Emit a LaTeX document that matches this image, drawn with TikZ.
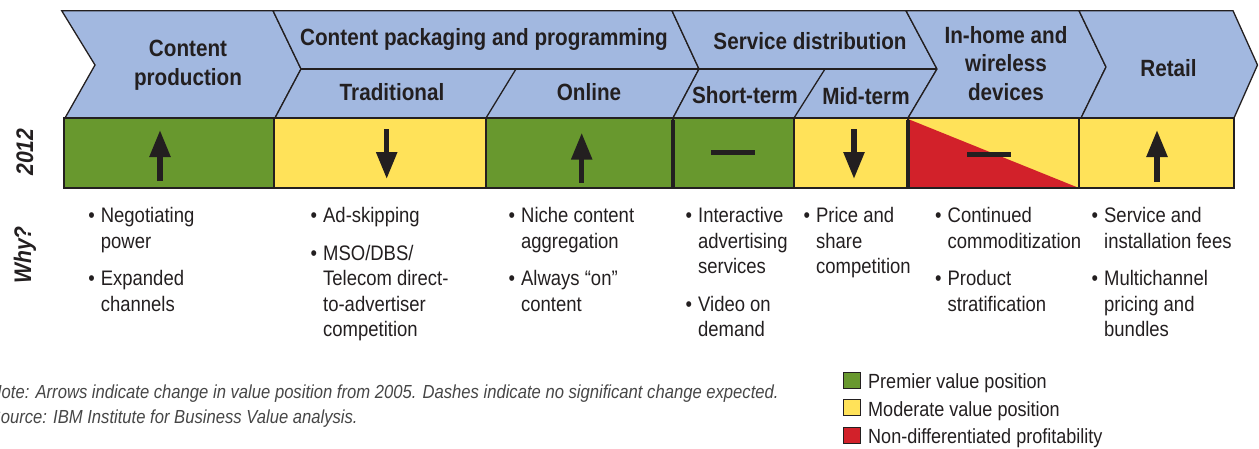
\documentclass[tikz,border=0pt]{standalone}
\usepackage{fontspec}
\setmainfont{Liberation Sans}[FakeStretch=0.88]
\usetikzlibrary{arrows.meta}

\definecolor{hdrblue}{RGB}{162,184,224}
\definecolor{valgreen}{RGB}{104,152,46}
\definecolor{valyellow}{RGB}{255,226,89}
\definecolor{valred}{RGB}{210,33,42}
\definecolor{inkgray}{RGB}{35,31,32}
\definecolor{notegray}{RGB}{70,70,70}

\tikzset{
  chev/.style={fill=hdrblue, draw=inkgray, line width=1.3pt, line join=miter},
  cell/.style={draw=inkgray, line width=1.3pt},
  hdr/.style={font=\fontsize{23.5}{28.5}\selectfont\bfseries, text=inkgray, align=center, inner sep=0pt},
  why/.style={anchor=north west, inner sep=0pt, font=\fontsize{21}{25.5}\selectfont, text=inkgray},
  trend/.style={line width=5.5pt, inkgray, -{Triangle[width=20pt,length=27pt]}},
  flat/.style={line width=5pt, inkgray},
  bar/.style={line width=4pt, inkgray},
  side/.style={rotate=90, anchor=base, inner sep=0pt, font=\fontsize{24}{28}\selectfont\bfseries\itshape, text=inkgray},
  note/.style={anchor=base west, inner sep=0pt, font=\fontsize{18.9}{25}\selectfont\itshape, text=notegray},
  keybox/.style={draw=inkgray, line width=0.8pt, minimum width=17pt, minimum height=16pt, inner sep=0pt},
  keytext/.style={anchor=base west, inner sep=0pt, font=\fontsize{20.5}{25}\selectfont, text=inkgray}
}

\begin{document}
\begin{tikzpicture}[x=1pt, y=-1pt]
    \useasboundingbox (0,0) rectangle (1259,448);

    % Header chevrons
    \draw[chev] (61.7,10.7) -- (273,10.7) -- (301,69) -- (275,118) -- (65,118) -- (95,65) -- cycle;
    \draw[chev] (273,10.7) -- (672,10.7) -- (699,69) -- (673,118) -- (275,118) -- (301,69) -- cycle;
    \draw[chev] (672,10.7) -- (906,10.7) -- (937,69) -- (908,118) -- (673,118) -- (699,69) -- cycle;
    \draw[chev] (906,10.7) -- (1079,10.7) -- (1106,67) -- (1081,118) -- (908,118) -- (937,69) -- cycle;
    \draw[chev] (1079,10.7) -- (1233,10.7) -- (1257.5,65) -- (1234,118) -- (1081,118) -- (1106,67) -- cycle;
    % sub-rows
    \draw[cell] (301,69) -- (937,69);
    \draw[cell] (516,69) -- (486,118);
    \draw[cell] (825,69) -- (794,118);

    % Header labels
    \node[hdr] (prod) at (188,65) {Content\\production};
    \node[hdr, anchor=base] (pack) at (484,45) {Content packaging and programming};
    \node[hdr, anchor=base] (trad) at (392,100) {Traditional};
    \node[hdr, anchor=base] (online) at (589,100) {Online};
    \node[hdr, anchor=base] (dist) at (810,49.5) {Service distribution};
    \node[hdr, anchor=base] (short) at (745,103) {Short-term};
    \node[hdr, anchor=base] (mid) at (866,104) {Mid-term};
    \node[hdr] (home) at (1006,63.2) {In-home and\\wireless\\devices};
    \node[hdr, anchor=base] (retail) at (1168.5,76.7) {Retail};

    % 2012 row
    \draw[cell, fill=valgreen] (64,118) rectangle (274,188);
    \draw[cell, fill=valyellow] (274,118) rectangle (486,188);
    \draw[cell, fill=valgreen] (486,118) rectangle (673,188);
    \draw[cell, fill=valgreen] (673,118) rectangle (794,188);
    \draw[cell, fill=valyellow] (794,118) rectangle (908,188);
    \fill[valyellow] (908,118) rectangle (1079,188);
    \fill[valred] (908,119) -- (1079,188) -- (908,188) -- cycle;
    \draw[cell] (908,118) rectangle (1079,188);
    \draw[cell, fill=valyellow] (1079,118) rectangle (1234,188);
    \draw[bar] (673,120) -- (673,188);
    \draw[bar] (908,120) -- (908,188);

    % Trends
    \draw[trend] (160,181) -- (160,130);
    \draw[trend] (386.7,129) -- (386.7,179);
    \draw[trend] (581.7,182.7) -- (581.7,132.7);
    \draw[flat] (711,152) -- (755,152);
    \draw[trend] (854,129) -- (854,179);
    \draw[flat] (967,154.5) -- (1011,154.5);
    \draw[trend] (1157,181.7) -- (1157,130);

    % Side labels
    \node[side] (year) at (33,152) {2012};
    \node[side] (whylbl) at (31,255) {Why?};

    % Reasons
    \node[why] (why1) at (88.2,204.5) {\begin{tabular}{@{}l@{\hspace{6pt}}l@{}}
        \textbullet & Negotiating\\ & power\\[12pt]
        \textbullet & Expanded\\ & channels\end{tabular}};
    \node[why] (why2) at (310.5,204.5) {\begin{tabular}{@{}l@{\hspace{6pt}}l@{}}
        \textbullet & Ad-skipping\\[12pt]
        \textbullet & MSO/DBS/\\ & Telecom direct-\\ & to-advertiser\\ & competition\end{tabular}};
    \node[why] (why3) at (508.5,204.5) {\begin{tabular}{@{}l@{\hspace{6pt}}l@{}}
        \textbullet & Niche content\\ & aggregation\\[12pt]
        \textbullet & Always “on”\\ & content\end{tabular}};
    \node[why] (why4) at (685.5,204.5) {\begin{tabular}{@{}l@{\hspace{6pt}}l@{}}
        \textbullet & Interactive\\ & advertising\\ & services\\[12pt]
        \textbullet & Video on\\ & demand\end{tabular}};
    \node[why] (why5) at (803.5,204.5) {\begin{tabular}{@{}l@{\hspace{6pt}}l@{}}
        \textbullet & Price and\\ & share\\ & competition\end{tabular}};
    \node[why] (why6) at (935,204.5) {\begin{tabular}{@{}l@{\hspace{6pt}}l@{}}
        \textbullet & Continued\\ & commoditization\\[12pt]
        \textbullet & Product\\ & stratification\end{tabular}};
    \node[why] (why7) at (1091.5,204.5) {\begin{tabular}{@{}l@{\hspace{6pt}}l@{}}
        \textbullet & Service and\\ & installation fees\\[12pt]
        \textbullet & Multichannel\\ & pricing and\\ & bundles\end{tabular}};

    % Note and source
    \node[note] (note) at (-10.5,398.3) {Note: Arrows indicate change in value position from 2005. Dashes indicate no significant change expected.};
    \node[note] (source) at (-10.5,423.3) {Source: IBM Institute for Business Value analysis.};

    % Legend
    \node[keybox, fill=valgreen] (key1) at (851.5,380) {};
    \node[keybox, fill=valyellow] (key2) at (851.5,407.5) {};
    \node[keybox, fill=valred] (key3) at (851.5,435) {};
    \node[keytext] (lab1) at (868,388.5) {Premier value position};
    \node[keytext] (lab2) at (868,416) {Moderate value position};
    \node[keytext] (lab3) at (868,443.5) {Non-differentiated profitability};

\end{tikzpicture}
\end{document}
